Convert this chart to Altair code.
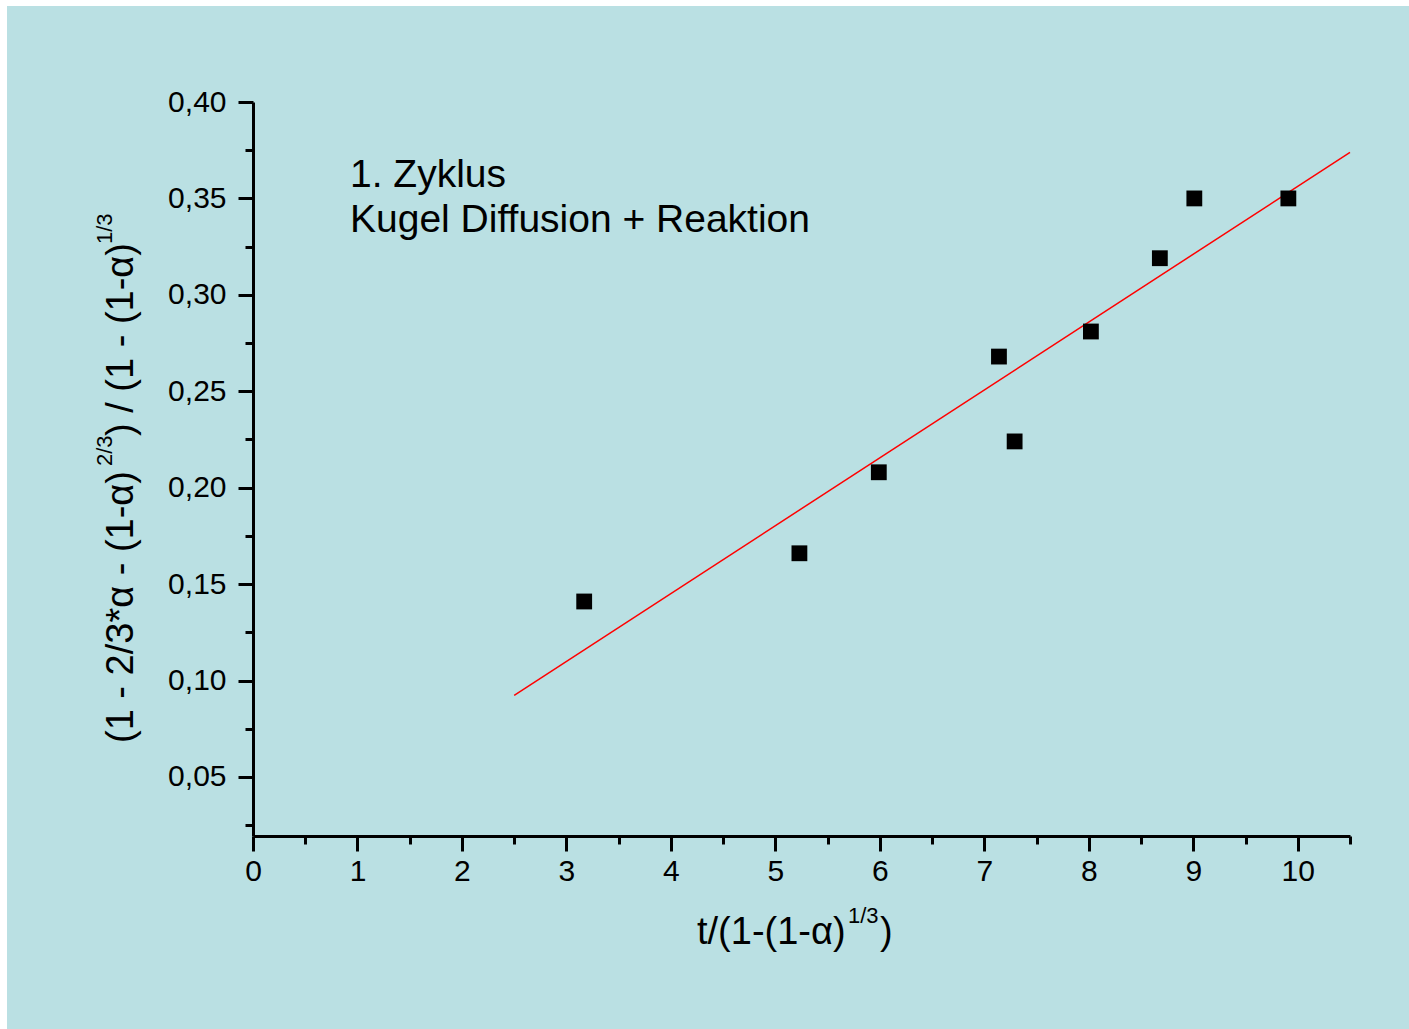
import altair as alt
import pandas as pd

# ---- data ----
x_vals = [3.17, 5.23, 5.99, 7.14, 7.29, 8.02, 8.68, 9.01, 9.91]
y_vals = [0.141, 0.166, 0.208, 0.268, 0.224, 0.281, 0.319, 0.350, 0.350]
fit_extent = [2.5, 10.5]

x_major = list(range(0, 11))
x_minor = [0.5, 1.5, 2.5, 3.5, 4.5, 5.5, 6.5, 7.5, 8.5, 9.5, 10.5]
y_major = [0.05, 0.10, 0.15, 0.20, 0.25, 0.30, 0.35, 0.40]
y_minor = [0.025, 0.075, 0.125, 0.175, 0.225, 0.275, 0.325, 0.375]

x_domain = [0, 10.5]
y_domain = [0.0194, 0.40]

note_lines = ["1. Zyklus", "Kugel Diffusion + Reaktion"]
xtitle_main, xtitle_sup, xtitle_end = "t/(1-(1-α)", "1/3", ")"
ytitle_a, ytitle_sup1, ytitle_b, ytitle_sup2 = "(1 - 2/3*α - (1-α)", "2/3", ") / (1 - (1-α)", "1/3"

FONT = "Liberation Sans"
BG = "#BAE0E3"

df = pd.DataFrame({"x": x_vals, "y": y_vals})

xs = alt.Scale(domain=x_domain, nice=False, zero=False)
ys = alt.Scale(domain=y_domain, nice=False, zero=False)

major_x_axis = alt.Axis(values=x_major, format="d", title=None, orient="bottom", zindex=2,
                        tickSize=15, tickWidth=3, domainWidth=3, domainColor="black",
                        tickColor="black", labelFontSize=30, labelFont=FONT,
                        labelColor="black", labelPadding=5, grid=False, labelFlush=False)
major_y_axis = alt.Axis(values=y_major, title=None, orient="left", zindex=2,
                        labelExpr="replace(format(datum.value, '.2f'), '.', ',')",
                        tickSize=15, tickWidth=3, domainWidth=3, domainColor="black",
                        tickColor="black", labelFontSize=30, labelFont=FONT,
                        labelColor="black", labelPadding=12, grid=False, labelFlush=False)
minor_x_axis = alt.Axis(values=x_minor, labels=False, title=None, orient="bottom", zindex=2,
                        tickSize=8, tickWidth=3, tickColor="black", domain=False, grid=False)
minor_y_axis = alt.Axis(values=y_minor, labels=False, title=None, orient="left", zindex=2,
                        tickSize=8, tickWidth=3, tickColor="black", domain=False, grid=False)

# background panel (light blue with a thin white border)
bg = alt.Chart(alt.Data(values=[{}])).mark_rect(color=BG).encode(
    x=alt.value(-246), x2=alt.value(1156), y=alt.value(-96), y2=alt.value(927)
)

points = alt.Chart(df).mark_square(size=250, color="black", opacity=1).encode(
    x=alt.X("x:Q", scale=xs, axis=major_x_axis),
    y=alt.Y("y:Q", scale=ys, axis=major_y_axis),
)

minor = alt.Chart(df).mark_point(opacity=0).encode(
    x=alt.X("x:Q", scale=xs, axis=minor_x_axis),
    y=alt.Y("y:Q", scale=ys, axis=minor_y_axis),
)

fit = alt.Chart(df).transform_regression("x", "y", extent=fit_extent).mark_line(
    color="#FF0000", strokeWidth=1.5
).encode(x=alt.X("x:Q", scale=xs), y=alt.Y("y:Q", scale=ys))


def txt(text, x, y, size, angle=0):
    return alt.Chart(alt.Data(values=[{}])).mark_text(
        text=text, font=FONT, fontSize=size, color="black", align="left",
        baseline="alphabetic", angle=angle
    ).encode(x=alt.value(x), y=alt.value(y))


texts = [
    txt(note_lines[0], 97, 85, 39),
    txt(note_lines[1], 97, 130, 39),
    txt(xtitle_main, 444, 842, 38),
    txt(xtitle_sup, 595, 821, 22),
    txt(xtitle_end, 627, 842, 38),
    txt(ytitle_a, -120, 641, 38, 270),
    txt(ytitle_sup1, -141, 364, 22, 270),
    txt(ytitle_b, -120, 334, 38, 270),
    txt(ytitle_sup2, -141, 142, 22, 270),
]

chart = alt.layer(bg, minor, fit, points, *texts).resolve_axis(
    x="independent", y="independent"
).properties(
    width=1097, height=734,
    padding={"left": 253, "top": 102, "right": 59, "bottom": 193},
    autosize=alt.AutoSizeParams(type="none"),
).configure(background="white", font=FONT).configure_view(stroke=None)

chart.save("out.html", embed_options={"renderer": "svg", "actions": False})
